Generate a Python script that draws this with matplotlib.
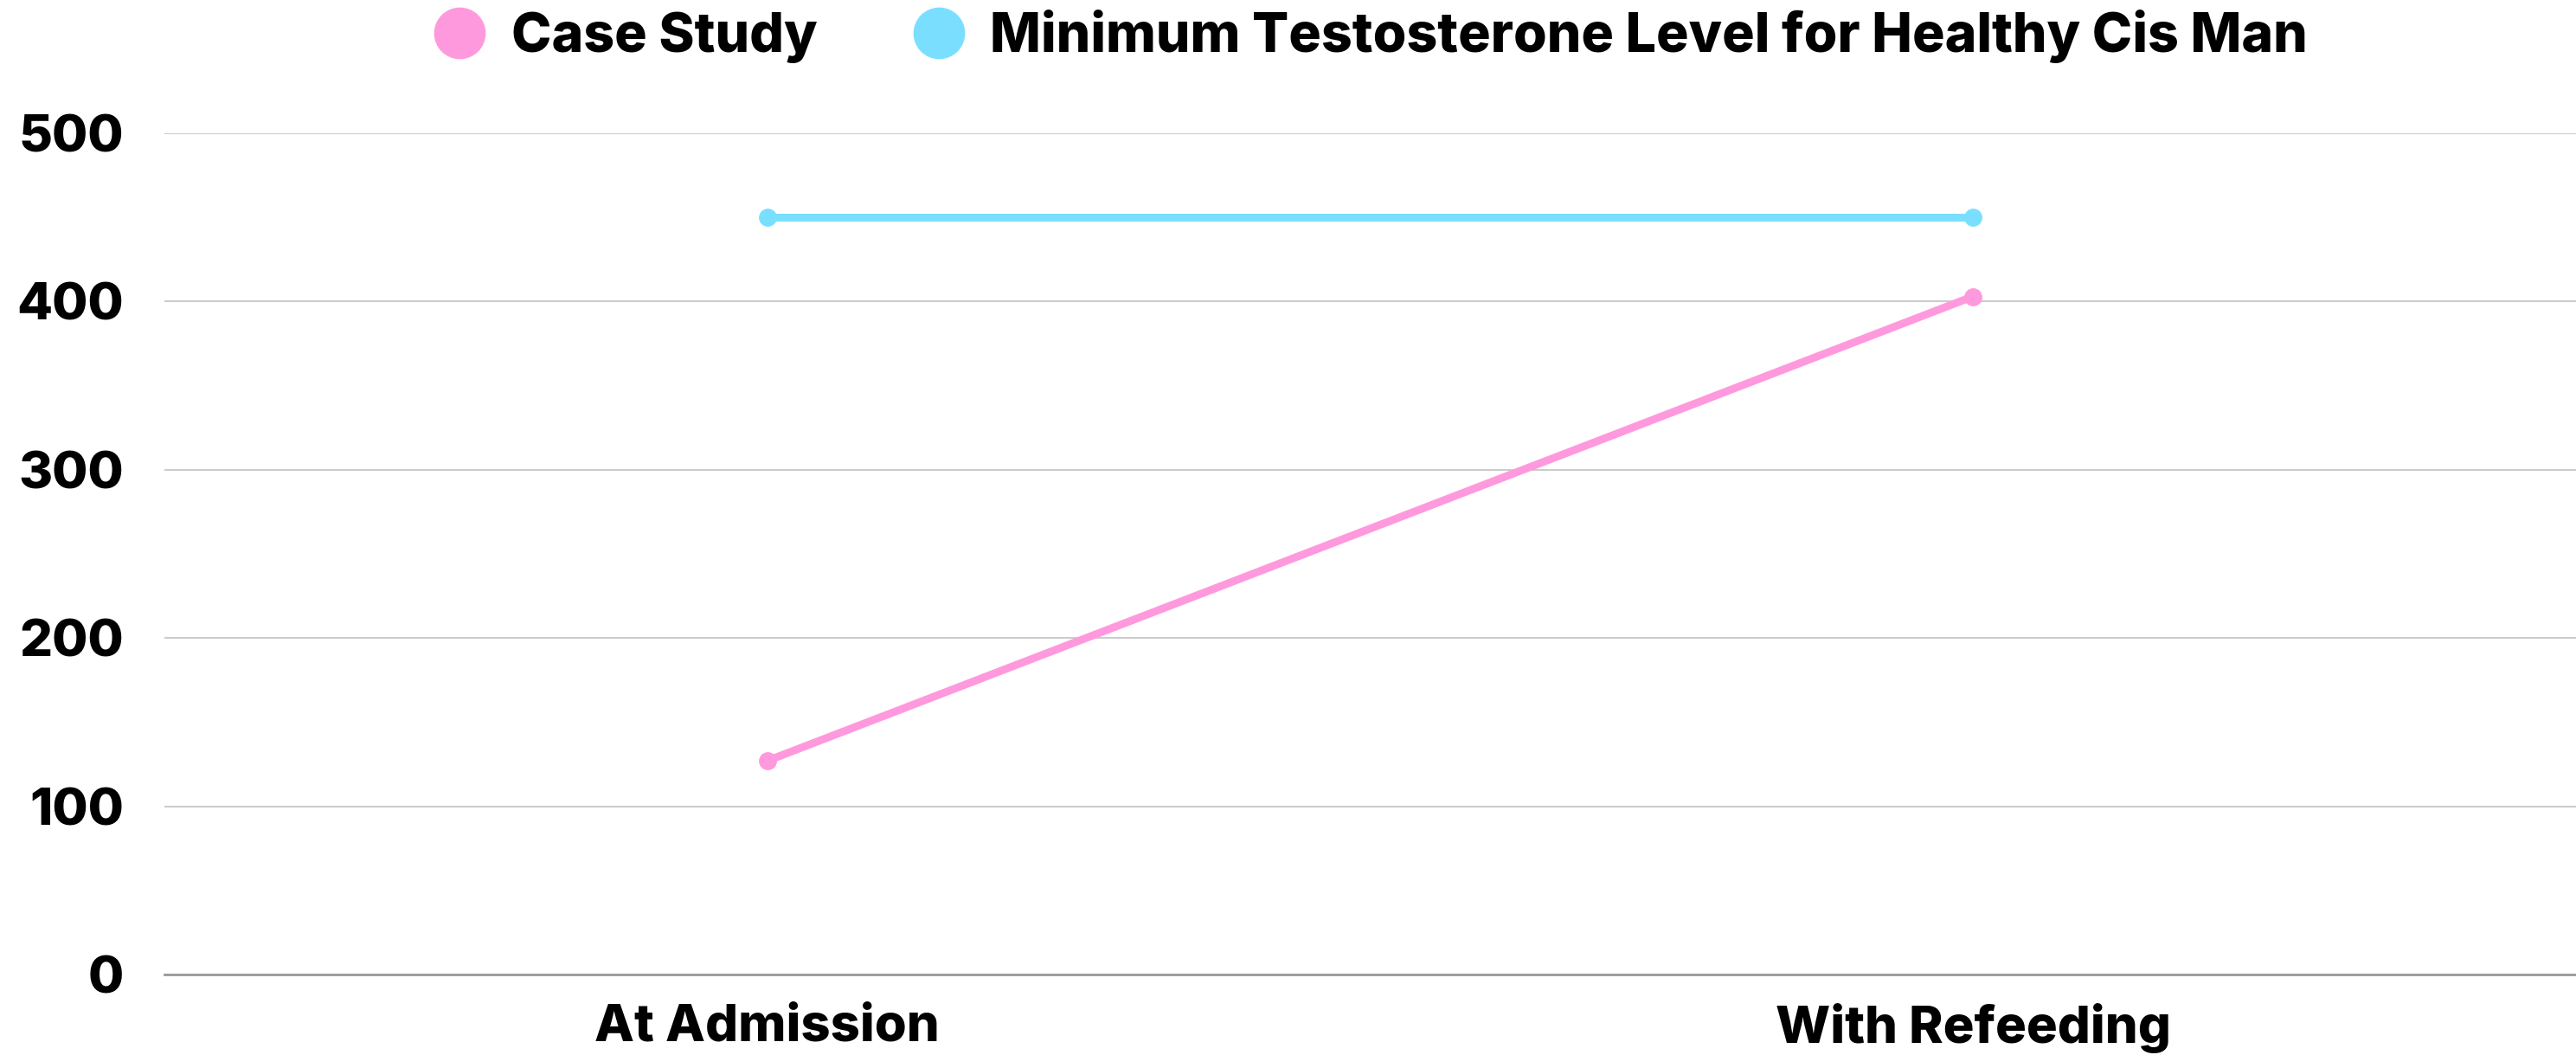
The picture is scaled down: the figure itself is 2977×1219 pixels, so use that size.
import matplotlib
matplotlib.use("Agg")
import matplotlib.pyplot as plt
from matplotlib.lines import Line2D

# Chart data
categories = ["At Admission", "With Refeeding"]
case_study = [127, 403]
healthy_min = [450, 450]
series_labels = ["Case Study", "Minimum Testosterone Level for Healthy Cis Man"]
y_ticks = [0, 100, 200, 300, 400, 500]

PINK = "#ff99dd"
BLUE = "#7adfff"

plt.rcParams["font.family"] = ["Inter", "DejaVu Sans"]

fig = plt.figure(figsize=(29.77, 12.19), dpi=100)
ax = fig.add_axes([0.0638, 0.0763, 0.9362, 0.7974])

x = list(range(len(categories)))
ax.plot(x, case_study, color=PINK, lw=6.5, marker="o", markersize=14,
        solid_capstyle="round", clip_on=False, zorder=3)
ax.plot(x, healthy_min, color=BLUE, lw=6.5, marker="o", markersize=14,
        solid_capstyle="round", clip_on=False, zorder=3)

ax.set_xlim(-0.5, 1.5)
ax.set_ylim(0, 500)
ax.set_xticks(x)
ax.set_xticklabels(categories, fontsize=43, fontweight="heavy")
ax.set_yticks(y_ticks)
ax.set_yticklabels([str(v) for v in y_ticks], fontsize=43, fontweight="heavy")
ax.tick_params(axis="y", length=0, pad=34)
ax.tick_params(axis="x", length=0, pad=24)

ax.grid(axis="y", color="#cccccc", lw=1.5)
ax.set_axisbelow(True)
for side in ["top", "right", "left"]:
    ax.spines[side].set_visible(False)
ax.spines["bottom"].set_color("#999999")
ax.spines["bottom"].set_linewidth(2)

handles = [Line2D([], [], ls="none", marker="o", markersize=42, color=c)
           for c in (PINK, BLUE)]
leg = fig.legend(handles, series_labels, loc="center", bbox_to_anchor=(0.5319, 0.9655),
                 ncol=2, frameon=False, prop={"size": 45, "weight": "heavy"},
                 handlelength=1.0, handletextpad=0.45, columnspacing=1.75)

fig.savefig("out.png", dpi=100, facecolor="white")
